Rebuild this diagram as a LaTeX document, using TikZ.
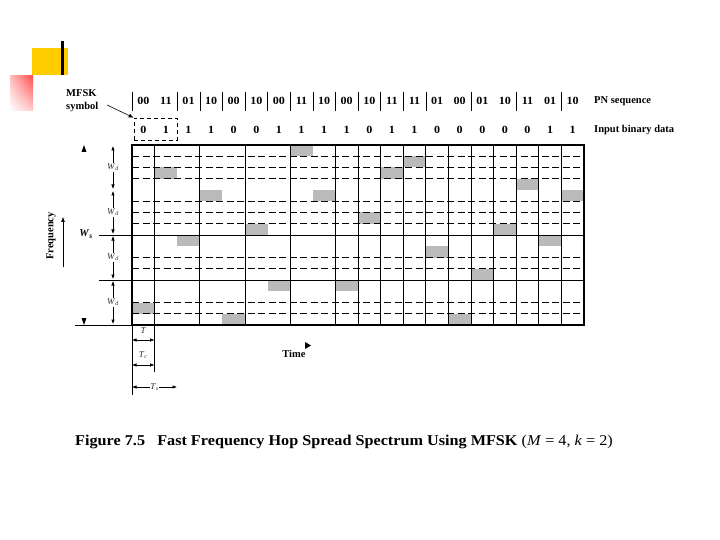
\documentclass[tikz,border=0pt]{standalone}
\usepackage{fontspec}
\setmainfont{Liberation Serif}
\usetikzlibrary{arrows.meta,shadings}
\definecolor{pptyellow}{RGB}{255,204,0}
\begin{document}
\begin{tikzpicture}[x=1pt,y=-1pt,
  lab/.style={font=\fontsize{10.5}{13}\selectfont\bfseries, anchor=west, inner sep=0pt},
  dig/.style={font=\fontsize{11}{12}\selectfont\bfseries, inner sep=0pt, xscale=1.1},
  sm/.style={font=\fontsize{9}{10}\selectfont, inner sep=0.8pt, text=black!80},
  gridline/.style={line width=0.9pt},
  dshline/.style={line width=0.9pt, dash pattern=on 7pt off 3.5pt},
  chip/.style={fill=black!27, draw=none},
  dimarrow/.style={{Latex[length=4.5pt,width=3.5pt]}-{Latex[length=4.5pt,width=3.5pt]}, line width=0.6pt},
  thinline/.style={line width=0.6pt}
]
\useasboundingbox (0,0) rectangle (720,540);
% slide decoration
\fill[pptyellow] (32,48) rectangle (68,75);
\shade[upper right=red!70, upper left=red!25!white, lower right=red!20!white, lower left=white] (10,76) rectangle (33,111);
\fill[black] (60.5,41) rectangle (63.5,75);
% chips
\foreach \c/\r in {0/14,1/2,2/8,3/4,4/15,5/7,6/12,7/0,8/4,9/12,10/6,11/2,12/1,13/9,14/15,15/11,16/7,17/3,18/8,19/4}
  \fill[chip] ({132+22.6*\c},{145+11.25*\r}) rectangle ++(22.6,11.25);
% dashed rows
\foreach \r in {1,2,3,5,6,7,10,11,14,15}
  \draw[dshline] (132,{145+11.25*\r}) -- (584,{145+11.25*\r});
% solid rows
\draw[gridline] (99,235) -- (584,235);
\draw[gridline] (99,280) -- (584,280);
\draw[gridline] (75,325) -- (132,325);
% verticals
\foreach \k in {1,3,5,7,9,10,...,19}
  \draw[gridline] ({132+22.6*\k},145) -- ({132+22.6*\k},325);
% frame
\draw[line width=2.4pt] (132,145) rectangle (584,325);
% header separators
\foreach \k in {0,2,3,...,13,15,17,19}
  \draw[thinline] ({132+22.6*\k},92) -- ({132+22.6*\k},111);
% PN sequence
\foreach \v [count=\i from 0] in {00,11,01,10,00,10,00,11,10,00,10,11,11,01,00,01,10,11,01,10}
  \node[dig] (pn\i) at ({143.3+22.6*\i},101) {\v};
% input data
\foreach \v [count=\i from 0] in {0,1,1,1,0,0,1,1,1,1,0,1,1,0,0,0,0,0,1,1}
  \node[dig] (bit\i) at ({143.3+22.6*\i},130) {\v};
\node[lab] (pnlab) at (594,101) {PN sequence};
\node[lab] (inlab) at (594,130) {Input binary data};
% MFSK symbol
\node[lab, anchor=north west, align=left] (mfsk) at (66,89) {MFSK\\symbol};
\node[draw, thinline, dash pattern=on 4pt off 3pt, minimum width=43pt, minimum height=22pt, inner sep=0pt] (dbox) at (155.5,129) {};
\coordinate (mfskarr) at (107,105);
\draw[thinline, -{Latex[length=5pt,width=4pt]}] (mfskarr) -- (dbox.north west);
% Wd arrows
\foreach \b in {0,1,2,3}{
  \coordinate (wtop\b) at (113,{146+45*\b});
  \coordinate (wbot\b) at (113,{189+45*\b});
  \draw[dimarrow] (wtop\b) -- (wbot\b) node[midway, sm, fill=white] (wd\b) {\textit{W}\textsubscript{\textit{d}}};
}
% Ws arrowheads
\fill (84,145) -- (81.5,152) -- (86.5,152) -- cycle;
\fill (84,325) -- (81.5,318) -- (86.5,318) -- cycle;
\node[font=\fontsize{10.5}{12}\selectfont\bfseries, inner sep=0pt] (ws) at (86,234) {\textit{W}\textsubscript{\textit{s}}};
% Frequency
\node[lab, anchor=center, rotate=90] (freq) at (51,236) {Frequency};
\coordinate (fbot) at (63,267);
\coordinate (ftop) at (63,217);
\draw[thinline, -{Latex[length=5pt,width=4pt]}] (fbot) -- (ftop);
% time marks
\draw[thinline] (132,325) -- (132,395);
\draw[thinline] (154.6,325) -- (154.6,372);
\coordinate (ta) at (132,340); \coordinate (tb) at (154.6,340);
\draw[dimarrow] (ta) -- (tb);
\node[sm] (tlab) at (143.3,331) {\textit{T}};
\coordinate (tca) at (132,365); \coordinate (tcb) at (154.6,365);
\draw[dimarrow] (tca) -- (tcb);
\node[sm] (tclab) at (143.3,355) {\textit{T}\textsubscript{\textit{c}}};
\coordinate (tsa) at (132,387); \coordinate (tsb) at (177,387);
\draw[dimarrow] (tsa) -- (tsb) node[midway, sm, fill=white] (tslab) {\textit{T}\textsubscript{\textit{s}}};
% Time
\node[lab, anchor=center] (time) at (294,354) {Time};
\fill (305,342) -- (311,345.5) -- (305,349) -- cycle;
% caption
\node[anchor=west, inner sep=0pt, xscale=1.08, font=\fontsize{15}{17}\selectfont] (cap) at (75,442) {\bfseries Figure 7.5\enspace\ Fast Frequency Hop Spread Spectrum Using MFSK \mdseries(\textit{M} = 4, \textit{k} = 2)};
\end{tikzpicture}
\end{document}
